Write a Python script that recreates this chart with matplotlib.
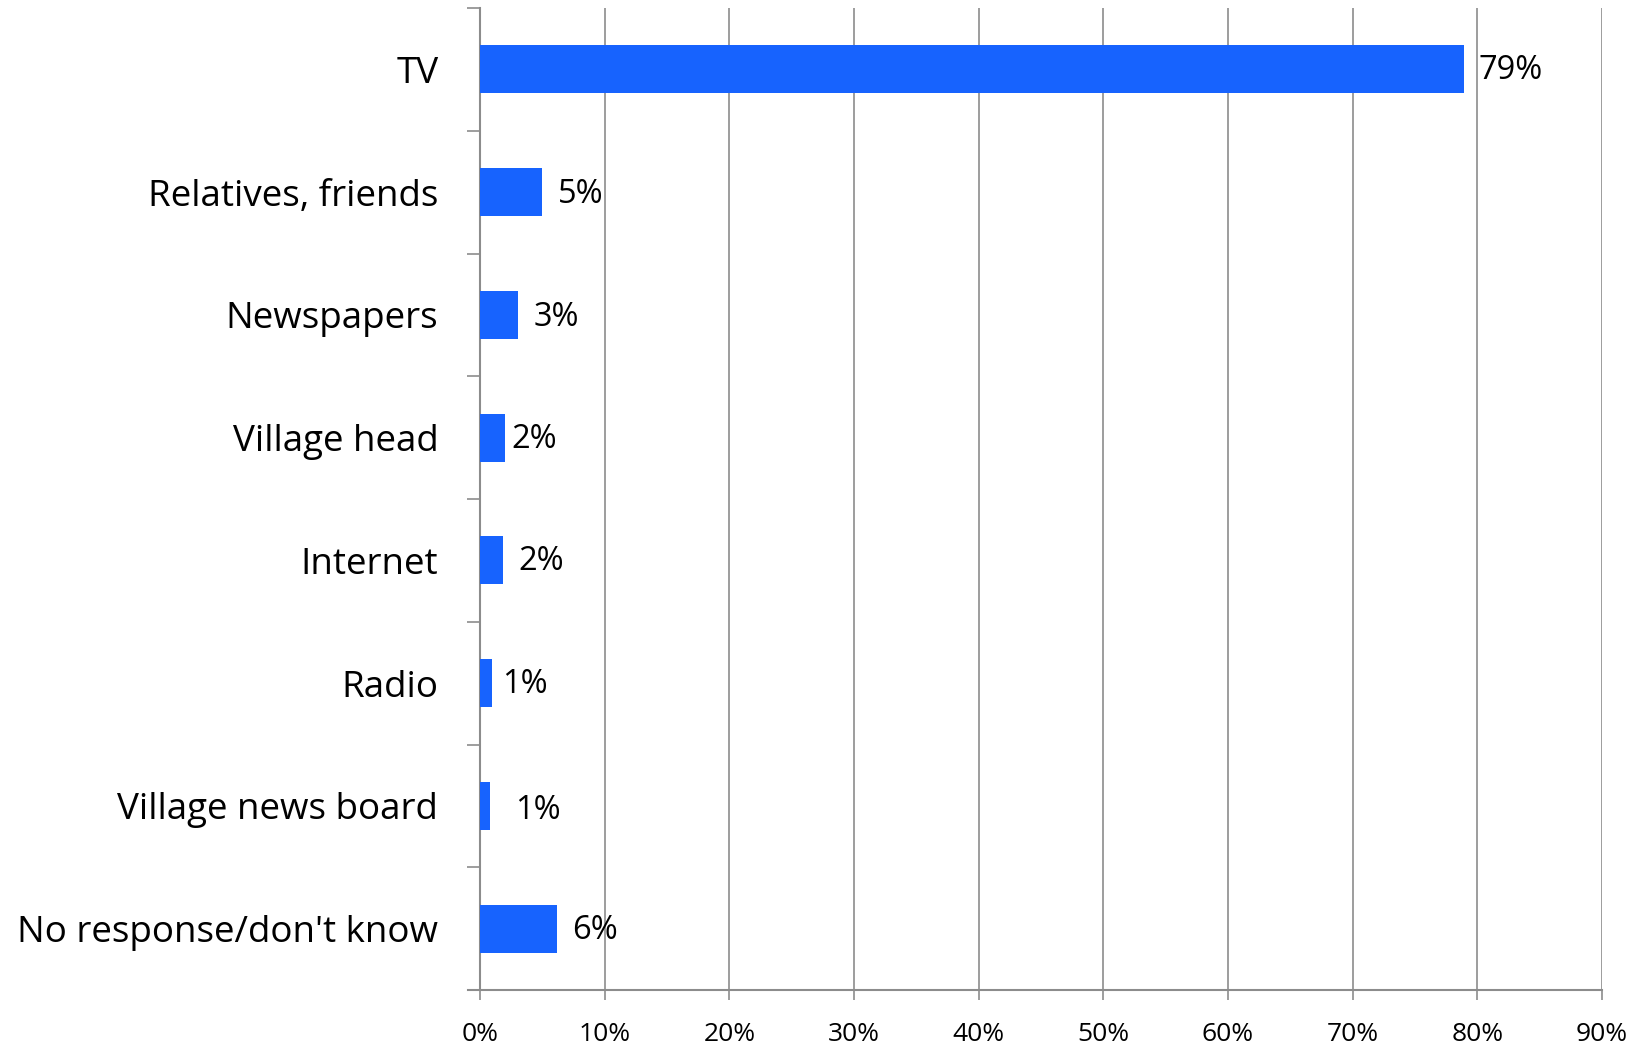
import numpy as np
import matplotlib.pyplot as plt
from matplotlib.ticker import FixedLocator, PercentFormatter

categories = ['TV', 'Relatives, friends', 'Newspapers', 'Village head',
              'Internet', 'Radio', 'Village news board', "No response/don't know"]
values = [78.9, 5.0, 3.05, 1.98, 1.87, 0.96, 0.80, 6.2]
labels = ['79%', '5%', '3%', '2%', '2%', '1%', '1%', '6%']
# label offsets from bar end, in points (as placed in the original)
label_dx = [11, 11, 11, 5, 11, 7, 18, 11]
label_dy = [-1, -2, -2, -1, -1, -1, -3, -1]

bar_color = '#1763fe'
grid_color = '#8c8c8c'

plt.rcParams['font.family'] = ['Open Sans', 'DejaVu Sans']

fig = plt.figure(figsize=(16.45, 10.47), dpi=100)
ax = fig.add_axes([480 / 1645, 1 - 990 / 1047, 1122 / 1645, 982 / 1047])

y = np.arange(len(categories))
ax.barh(y, values, height=0.39, color=bar_color, zorder=3)

for yi, v, lab, dx, dy in zip(y, values, labels, label_dx, label_dy):
    ax.annotate(lab, (v, yi), xytext=(dx, dy), textcoords='offset points',
                ha='left', va='center', fontsize=23.5, color='black')

ax.set_xlim(0, 90)
ax.set_ylim(len(categories) - 0.5, -0.5)
ax.set_xticks(np.arange(0, 91, 10))
ax.xaxis.set_major_formatter(PercentFormatter(decimals=0))
ax.grid(axis='x', color=grid_color, linewidth=1.2, zorder=0)

ax.set_yticks(y)
ax.set_yticklabels(categories, fontsize=26.5)
ax.yaxis.set_minor_locator(FixedLocator(np.arange(-0.5, len(categories), 1.0)))
ax.tick_params(axis='y', which='major', length=0, pad=30)
ax.tick_params(axis='y', which='minor', length=9.5, width=1.2, color=grid_color)
ax.tick_params(axis='x', length=7, width=1.2, color=grid_color, pad=16, labelsize=19)

for s in ['top', 'right']:
    ax.spines[s].set_visible(False)
for s in ['left', 'bottom']:
    ax.spines[s].set_color(grid_color)
    ax.spines[s].set_linewidth(1.5)
ax.spines['bottom'].set_bounds(-1, 90)

fig.savefig('out.png', dpi=100)
